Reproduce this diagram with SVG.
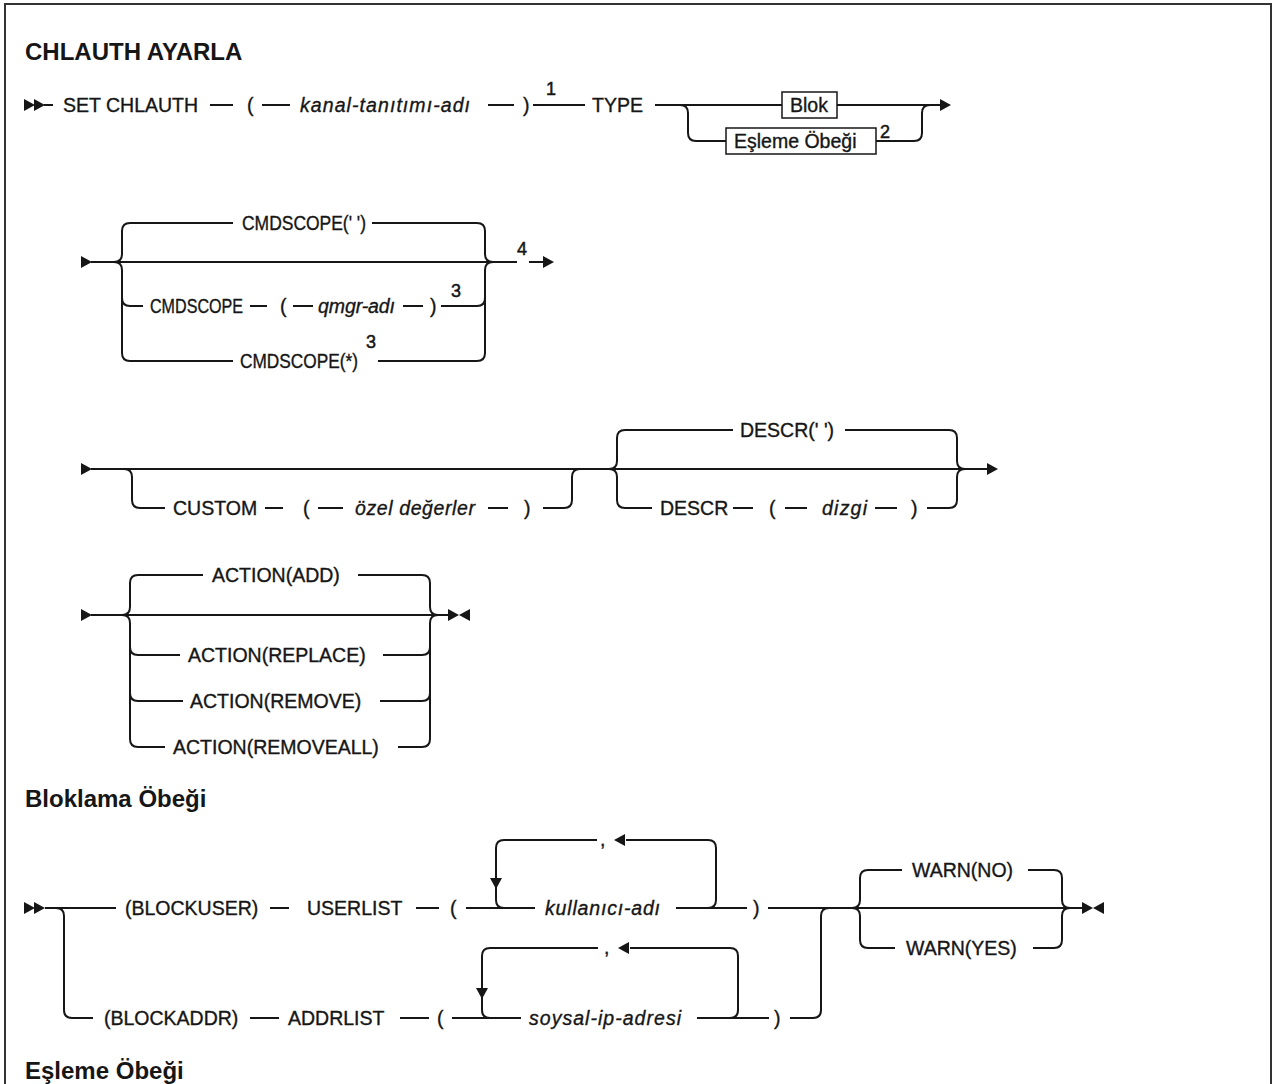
<svg xmlns="http://www.w3.org/2000/svg" xmlns:xlink="http://www.w3.org/1999/xlink" width="1276" height="1084" viewBox="0 0 1276 1084">
  <style>
    .t { font-family: "Liberation Sans", Arial, sans-serif; font-size: 19.5px; fill: #161616; stroke: #161616; stroke-width: 0.35px; }
    .i { font-style: italic; }
    .h { font-family: "Liberation Sans", Arial, sans-serif; font-size: 24px; font-weight: bold; fill: #161616; }
    .sup { font-family: "Liberation Sans", Arial, sans-serif; font-size: 18px; fill: #161616; stroke: #161616; stroke-width: 0.5px; }
    .ln { fill: none; stroke: #161616; stroke-width: 2; }
    .box { fill: #ffffff; stroke: #161616; stroke-width: 1.5; }
    .ah { fill: #161616; }
    .frame { fill: none; stroke: #333333; stroke-width: 2; }
  </style>
  <defs>
    <!-- arrowheads: origin at the tip -->
    <path id="tri-r" d="M0,0 L-11,-6 L-11,6 Z"/>
    <path id="tri-l" d="M0,0 L11,-6 L11,6 Z"/>
    <path id="tri-d" d="M0,0 L-6,-11 L6,-11 Z"/>
  </defs>

  <rect width="1276" height="1084" fill="#ffffff"/>
  <path class="frame" d="M5,1084 V4 H1271 V1084"/>

  <g id="title"><text class="h" x="25" y="60">CHLAUTH AYARLA</text></g>

  <!-- ===== connectors ===== -->
  <g id="connectors" class="ln">
    <!-- row 1: SET CHLAUTH ... TYPE -->
    <path d="M44,105 H53"/>
    <path d="M210,105 H233"/>
    <path d="M262,105 H290"/>
    <path d="M488,105 H514"/>
    <path d="M533,105 H585"/>
    <path d="M655,105 H782"/>
    <path d="M837,105 H940"/>
    <path d="M680,105 Q688,105 688,113 V133 Q688,141 696,141 H726"/>
    <path d="M876,141 H914 Q922,141 922,133 V113 Q922,105 930,105"/>

    <!-- row 2: CMDSCOPE -->
    <path d="M91,262 H517"/>
    <path d="M114,262 Q122,262 122,254 V231 Q122,223 130,223 H233"/>
    <path d="M114,262 Q122,262 122,270 V298 Q122,306 130,306 H143"/>
    <path d="M122,298 V353 Q122,361 130,361 H233"/>
    <path d="M372,223 H477 Q485,223 485,231 V254 Q485,262 493,262"/>
    <path d="M250,306 H267"/>
    <path d="M293,306 H313"/>
    <path d="M403,306 H423"/>
    <path d="M441,306 H477 Q485,306 485,298 V270 Q485,262 493,262"/>
    <path d="M378,361 H477 Q485,361 485,353 V298"/>
    <path d="M529,262 H543"/>

    <!-- row 3: CUSTOM / DESCR -->
    <path d="M91,469 H987"/>
    <path d="M124,469 Q132,469 132,477 V500 Q132,508 140,508 H165"/>
    <path d="M265,508 H283"/>
    <path d="M318,508 H343"/>
    <path d="M488,508 H508"/>
    <path d="M543,508 H564 Q572,508 572,500 V477 Q572,469 580,469"/>
    <path d="M609,469 Q617,469 617,461 V438 Q617,430 625,430 H733"/>
    <path d="M845,430 H949 Q957,430 957,438 V461 Q957,469 965,469"/>
    <path d="M609,469 Q617,469 617,477 V500 Q617,508 625,508 H652"/>
    <path d="M733,508 H753"/>
    <path d="M785,508 H807"/>
    <path d="M875,508 H897"/>
    <path d="M927,508 H949 Q957,508 957,500 V477 Q957,469 965,469"/>

    <!-- row 4: ACTION -->
    <path d="M91,615 H448"/>
    <path d="M122,615 Q130,615 130,607 V583 Q130,575 138,575 H203"/>
    <path d="M358,575 H422 Q430,575 430,583 V607 Q430,615 438,615"/>
    <path d="M122,615 Q130,615 130,623 V647 Q130,655 138,655 H180"/>
    <path d="M383,655 H422 Q430,655 430,647 V623 Q430,615 438,615"/>
    <path d="M130,647 V693 Q130,701 138,701 H183"/>
    <path d="M380,701 H422 Q430,701 430,693 V647"/>
    <path d="M130,693 V739 Q130,747 138,747 H165"/>
    <path d="M398,747 H422 Q430,747 430,739 V693"/>

    <!-- blocking group -->
    <path d="M45,908 H116"/>
    <path d="M56,908 Q64,908 64,916 V1010 Q64,1018 72,1018 H93"/>
    <path d="M270,908 H289"/>
    <path d="M416,908 H439"/>
    <path d="M466,908 H535"/>
    <path d="M597,840 H504 Q496,840 496,848 V900 Q496,908 504,908"/>
    <path d="M626,840 H708 Q716,840 716,848 V900 Q716,908 708,908"/>
    <path d="M676,908 H747"/>
    <path d="M768,908 H1083"/>
    <path d="M250,1018 H279"/>
    <path d="M400,1018 H429"/>
    <path d="M452,1018 H521"/>
    <path d="M598,948 H490 Q482,948 482,956 V1010 Q482,1018 490,1018"/>
    <path d="M630,948 H730 Q738,948 738,956 V1010 Q738,1018 730,1018"/>
    <path d="M697,1018 H769"/>
    <path d="M790,1018 H813 Q821,1018 821,1010 V916 Q821,908 829,908"/>
    <path d="M852,908 Q860,908 860,900 V878 Q860,870 868,870 H902"/>
    <path d="M1028,870 H1054 Q1062,870 1062,878 V900 Q1062,908 1070,908"/>
    <path d="M852,908 Q860,908 860,916 V940 Q860,948 868,948 H895"/>
    <path d="M1033,948 H1054 Q1062,948 1062,940 V916 Q1062,908 1070,908"/>
  </g>

  <!-- arrowheads and line ends -->
  <g id="markers" class="ah">
    <use xlink:href="#tri-r" x="35" y="105"/>
    <use xlink:href="#tri-r" x="45" y="105"/>
    <use xlink:href="#tri-r" x="951" y="105"/>
    <use xlink:href="#tri-r" x="92" y="262"/>
    <use xlink:href="#tri-r" x="554" y="262"/>
    <use xlink:href="#tri-r" x="92" y="469"/>
    <use xlink:href="#tri-r" x="998" y="469"/>
    <use xlink:href="#tri-r" x="92" y="615"/>
    <use xlink:href="#tri-r" x="459" y="615"/>
    <use xlink:href="#tri-l" x="459" y="615"/>
    <use xlink:href="#tri-r" x="35" y="908"/>
    <use xlink:href="#tri-r" x="45" y="908"/>
    <use xlink:href="#tri-d" x="496" y="889"/>
    <use xlink:href="#tri-l" x="614" y="840"/>
    <use xlink:href="#tri-d" x="482" y="999"/>
    <use xlink:href="#tri-l" x="618" y="948"/>
    <use xlink:href="#tri-r" x="1093" y="908"/>
    <use xlink:href="#tri-l" x="1093" y="908"/>
  </g>

  <!-- ===== row 1 ===== -->
  <g id="n-set"><text class="t" x="63" y="112">SET CHLAUTH</text></g>
  <g id="n-lp1"><text class="t" x="247" y="112">(</text></g>
  <g id="n-kanal"><text class="t i" x="300" y="112" textLength="170" lengthAdjust="spacing">kanal-tanıtımı-adı</text></g>
  <g id="n-rp1"><text class="t" x="523" y="112">)</text></g>
  <g id="n-note1"><text class="sup" x="546" y="95">1</text></g>
  <g id="n-type"><text class="t" x="592" y="112">TYPE</text></g>
  <g id="n-blok">
    <rect class="box" x="782" y="92" width="55" height="26"/>
    <text class="t" x="790" y="112">Blok</text>
  </g>
  <g id="n-esleme">
    <rect class="box" x="726" y="128" width="150" height="26"/>
    <text class="t" x="734" y="148">Eşleme Öbeği</text>
  </g>
  <g id="n-note2"><text class="sup" x="880" y="138">2</text></g>

  <!-- ===== row 2 ===== -->
  <g id="n-cmd-blank"><text class="t" x="242" y="230" textLength="124" lengthAdjust="spacingAndGlyphs">CMDSCOPE(' ')</text></g>
  <g id="n-cmd">
    <text class="t" x="150" y="313" textLength="93" lengthAdjust="spacingAndGlyphs">CMDSCOPE</text>
    <text class="t" x="280" y="313">(</text>
    <text class="t i" x="318" y="313" textLength="77" lengthAdjust="spacing">qmgr-adı</text>
    <text class="t" x="430" y="313">)</text>
    <text class="sup" x="451" y="297">3</text>
  </g>
  <g id="n-cmd-star">
    <text class="t" x="240" y="368" textLength="118" lengthAdjust="spacingAndGlyphs">CMDSCOPE(*)</text>
    <text class="sup" x="366" y="348">3</text>
  </g>
  <g id="n-note4"><text class="sup" x="517" y="255">4</text></g>

  <!-- ===== row 3 ===== -->
  <g id="n-custom">
    <text class="t" x="173" y="515">CUSTOM</text>
    <text class="t" x="303" y="515">(</text>
    <text class="t i" x="355" y="515" textLength="120" lengthAdjust="spacing">özel değerler</text>
    <text class="t" x="524" y="515">)</text>
  </g>
  <g id="n-descr-blank"><text class="t" x="740" y="437">DESCR(' ')</text></g>
  <g id="n-descr">
    <text class="t" x="660" y="515">DESCR</text>
    <text class="t" x="769" y="515">(</text>
    <text class="t i" x="822" y="515" textLength="45" lengthAdjust="spacing">dizgi</text>
    <text class="t" x="911" y="515">)</text>
  </g>

  <!-- ===== row 4 ===== -->
  <g id="n-add"><text class="t" x="212" y="582">ACTION(ADD)</text></g>
  <g id="n-replace"><text class="t" x="188" y="662">ACTION(REPLACE)</text></g>
  <g id="n-remove"><text class="t" x="190" y="708">ACTION(REMOVE)</text></g>
  <g id="n-removeall"><text class="t" x="173" y="754">ACTION(REMOVEALL)</text></g>

  <!-- ===== blocking group ===== -->
  <g id="h-blok"><text class="h" x="25" y="807">Bloklama Öbeği</text></g>
  <g id="n-blockuser">
    <text class="t" x="125" y="915">(BLOCKUSER)</text>
    <text class="t" x="307" y="915">USERLIST</text>
    <text class="t" x="450" y="915">(</text>
    <text class="t i" x="545" y="915" textLength="115" lengthAdjust="spacing">kullanıcı-adı</text>
    <text class="t" x="600" y="846">,</text>
    <text class="t" x="753" y="915">)</text>
  </g>
  <g id="n-blockaddr">
    <text class="t" x="104" y="1025">(BLOCKADDR)</text>
    <text class="t" x="288" y="1025">ADDRLIST</text>
    <text class="t" x="437" y="1025">(</text>
    <text class="t i" x="529" y="1025" textLength="152" lengthAdjust="spacing">soysal-ip-adresi</text>
    <text class="t" x="604" y="954">,</text>
    <text class="t" x="774" y="1025">)</text>
  </g>
  <g id="n-warn-no"><text class="t" x="912" y="877">WARN(NO)</text></g>
  <g id="n-warn-yes"><text class="t" x="906" y="955">WARN(YES)</text></g>

  <g id="h-esleme"><text class="h" x="25" y="1079">Eşleme Öbeği</text></g>
</svg>
